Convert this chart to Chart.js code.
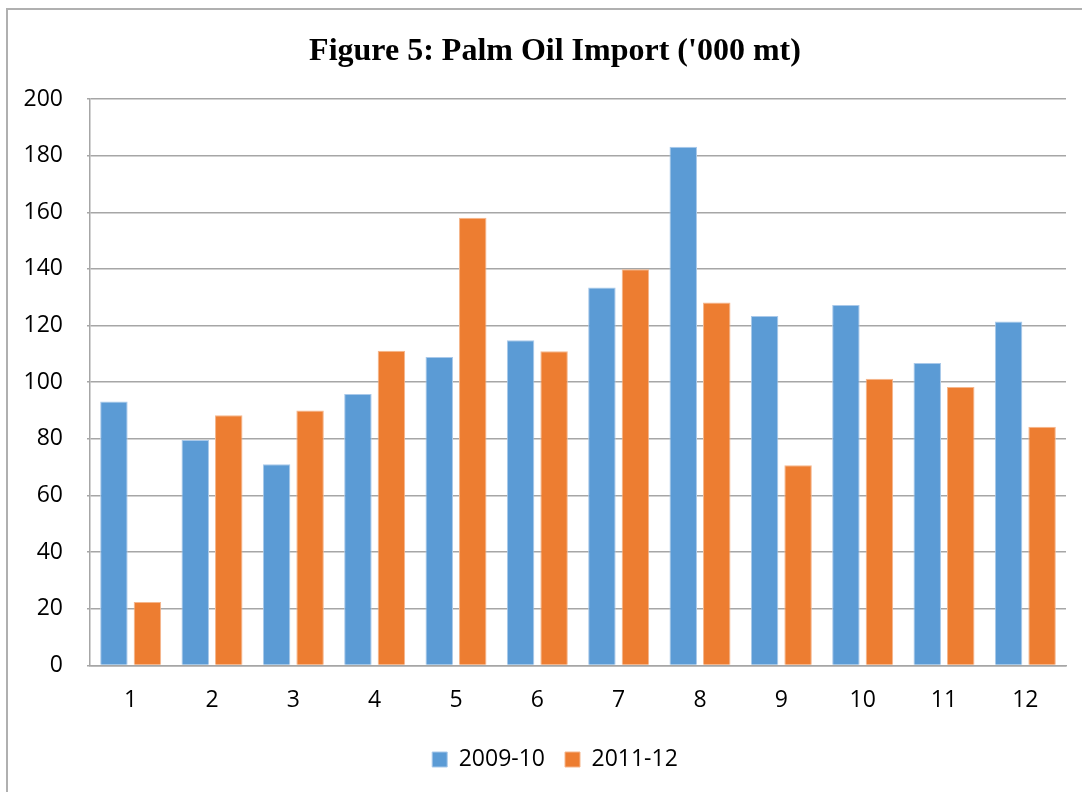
<!DOCTYPE html>
<html>
<head>
<meta charset="utf-8">
<script src="https://cdn.jsdelivr.net/npm/chart.js@4"></script>
<style>
    body { margin: 0; background: #fff; }
    #frame { position: absolute; left: 6px; top: 8px; width: 1100px; height: 800px; border-left: 2px solid #b0b0b0; border-top: 2px solid #b0b0b0; }
    #wrap { position: absolute; left: 0; top: 0; width: 1082px; height: 792px; }
</style>
</head>
<body>
<div id="frame"></div>
<div id="wrap"><canvas id="importChart"></canvas></div>
<script>
var months = ["1", "2", "3", "4", "5", "6", "7", "8", "9", "10", "11", "12"];
var imports0910 = [93.2, 79.6, 71.0, 95.8, 108.9, 114.8, 133.4, 183.1, 123.4, 127.3, 106.8, 121.4];
var imports1112 = [22.4, 88.3, 90.0, 111.1, 158.1, 110.9, 139.9, 128.1, 70.7, 101.2, 98.3, 84.3];
var yTicks = [0, 20, 40, 60, 80, 100, 120, 140, 160, 180, 200];

// the original frame is a bit wider than the picture, so title and legend sit right of centre
var shiftBoxes = {
    id: "shiftBoxes",
    afterLayout: function (c) {
        [c.titleBlock, c.legend].forEach(function (b) {
            b.left += 22;
            b.right += 22;
        });
    }
};

var chart = document.getElementById("importChart");

if (chart) {

    new Chart(chart, {
        type: "bar",
        data: {
            labels: months,
            datasets: [{
                label: "2009-10",
                data: imports0910,
                backgroundColor: "#5B9BD5",
                borderColor: "#a9c9ea",
                borderWidth: 1
            }, {
                label: "2011-12",
                data: imports1112,
                backgroundColor: "#ED7D31",
                borderColor: "#f5b68c",
                borderWidth: 1
            }]
        },
        options: {
            responsive: true,
            maintainAspectRatio: false,
            animation: false,
            datasets: {
                bar: { categoryPercentage: 0.824, barPercentage: 0.82 }
            },
            layout: { padding: { left: 0, right: 16, top: 0, bottom: 11 } },
            plugins: {
                title: {
                    display: true,
                    text: "Figure 5: Palm Oil Import ('000 mt)",
                    color: "#000",
                    font: { family: "Liberation Serif", size: 32, weight: "bold" },
                    padding: { top: 33, bottom: 27.6 }
                },
                legend: {
                    position: "bottom",
                    labels: {
                        color: "#000",
                        font: { family: "Open Sans", size: 23 },
                        boxWidth: 15,
                        boxHeight: 15,
                        padding: 20
                    }
                },
                tooltip: { enabled: false }
            },
            scales: {
                x: {
                    afterFit: function (s) { s.height -= 7; },
                    grid: { display: false, drawTicks: false },
                    border: { color: "#a6a6a6", width: 1.5 },
                    ticks: {
                        color: "#000",
                        font: { family: "Open Sans", size: 23 },
                        padding: 21
                    }
                },
                y: {
                    min: 0,
                    max: 200,
                    afterFit: function (s) { s.width = 90; },
                    afterBuildTicks: function (s) {
                        s.ticks = yTicks.map(function (v) { return { value: v }; });
                    },
                    grid: { color: "#a6a6a6", lineWidth: 1.5, drawTicks: true, tickLength: 3 },
                    border: { color: "#a6a6a6", width: 1.5 },
                    ticks: {
                        color: "#000",
                        font: { family: "Open Sans", size: 23 },
                        padding: 24
                    }
                }
            }
        },
        plugins: [shiftBoxes]
    });

}
</script>
</body>
</html>
